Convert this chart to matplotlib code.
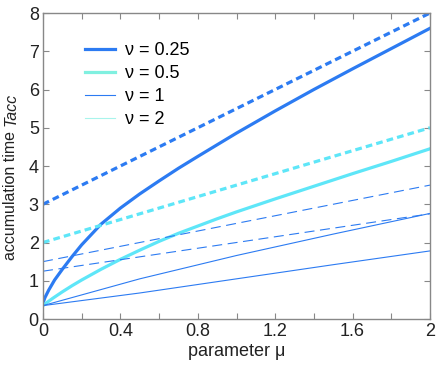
import numpy as np
import matplotlib
matplotlib.use("Agg")
import matplotlib.pyplot as plt
from matplotlib.lines import Line2D
from matplotlib.ticker import MultipleLocator

plt.rcParams['font.family'] = ['Liberation Sans', 'DejaVu Sans']

# values
mu_a = [0, 0.01, 0.03, 0.06, 0.1, 0.15, 0.2, 0.3, 0.4, 0.5, 0.6, 0.7, 0.8,
        1.0, 1.2, 1.4, 1.6, 1.8, 2.0]
t_025 = [0.42, 0.56, 0.76, 1.02, 1.3, 1.63, 1.94, 2.48, 2.9, 3.27, 3.61, 3.94, 4.25,
         4.86, 5.44, 6.0, 6.54, 7.07, 7.6]

mu_b = [0, 0.02, 0.05, 0.1, 0.15, 0.2, 0.3, 0.4, 0.5, 0.6, 0.7, 0.8, 0.9,
        1.0, 1.2, 1.4, 1.6, 1.8, 2.0]
t_05 = [0.35, 0.43, 0.54, 0.71, 0.87, 1.02, 1.3, 1.56, 1.8, 2.03, 2.24, 2.43, 2.62,
        2.8, 3.14, 3.47, 3.8, 4.12, 4.45]

mu_thin = [0, 0.5, 1.0, 1.5, 2.0]
t_1 = [0.35, 1.05, 1.66, 2.22, 2.76]
t_2 = [0.35, 0.68, 1.05, 1.42, 1.78]

mu_dash = [0, 2]
d_025 = [3.0, 8.0]
d_05 = [2.0, 5.0]
d_1 = [1.5, 3.5]
d_2 = [1.25, 2.75]

labels = ['ν = 0.25', 'ν = 0.5', 'ν = 1', 'ν = 2']

blue = '#2c7bf2'
cyan = '#5ee6f8'
txt = '#222222'

fig = plt.figure(figsize=(4.36, 3.69), dpi=100)
ax = fig.add_axes([43 / 436, 50 / 369, 387 / 436, 306 / 369])

ax.plot(mu_a, t_025, color=blue, lw=2.3)
ax.plot(mu_b, t_05, color=cyan, lw=2.3)
ax.plot(mu_thin, t_1, color=blue, lw=0.8)
ax.plot(mu_thin, t_2, color=blue, lw=0.8)
ax.plot(mu_dash, d_025, color=blue, lw=2.3, dashes=(2.1, 1.3))
ax.plot(mu_dash, d_05, color=cyan, lw=2.3, dashes=(2.1, 1.3))
ax.plot(mu_dash, d_1, color=blue, lw=0.8, dashes=(9, 5))
ax.plot(mu_dash, d_2, color=blue, lw=0.8, dashes=(9, 5))

handles = [Line2D([], [], color=blue, lw=2.3),
           Line2D([], [], color='#80f0e0', lw=2.3),
           Line2D([], [], color=blue, lw=0.8),
           Line2D([], [], color='#a8f4ec', lw=0.8)]
ax.legend(handles, labels, loc='upper left', bbox_to_anchor=(0.108, 0.905),
          frameon=False, fontsize=13, handlelength=1.7, handletextpad=0.55,
          labelspacing=0.33, borderpad=0, borderaxespad=0)

ax.set_xlim(0, 2)
ax.set_ylim(0, 8)
ax.set_xticks([0, 0.4, 0.8, 1.2, 1.6, 2])
ax.set_xticklabels(['0', '0.4', '0.8', '1.2', '1.6', '2'])
ax.xaxis.set_minor_locator(MultipleLocator(0.2))
ax.yaxis.set_major_locator(MultipleLocator(1))
ax.tick_params(which='both', direction='in', top=True, right=True,
               length=4, width=0.8, color='#888888', labelsize=13,
               labelcolor=txt, pad=3)
for s in ax.spines.values():
    s.set_color('#888888')
    s.set_linewidth(1.0)

ax.set_xlabel('parameter μ', fontsize=13, color=txt, labelpad=2)

# y label: plain part plus italic "Tacc"
t1 = fig.text(11 / 436, 1 - 260 / 369, 'accumulation time ', rotation=90,
              fontsize=11.5, color=txt, ha='center', va='bottom')
ax.annotate('Tacc', xy=(0.5, 1), xycoords=t1, rotation=90, fontsize=11.5,
            color=txt, style='italic', ha='center', va='bottom')

fig.savefig('out.png', dpi=100)
